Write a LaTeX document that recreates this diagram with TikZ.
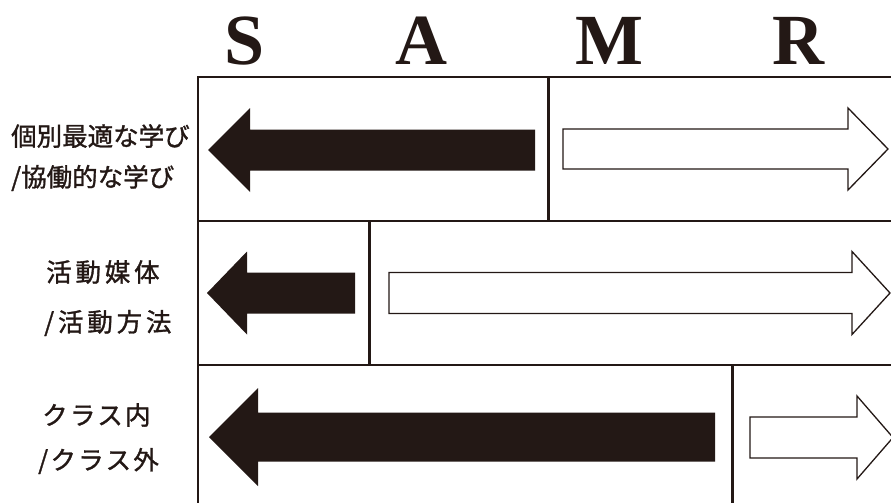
\documentclass[tikz,border=0pt]{standalone}
\usepackage{fontspec}
\setmainfont{Liberation Serif}
\newfontfamily\jpfont[FakeBold=1.2]{Noto Sans CJK JP}
\newfontfamily\jpfontA[LetterSpace=15,FakeBold=1.2]{Noto Sans CJK JP}
\newfontfamily\jpfontB[LetterSpace=9,FakeBold=1.2]{Noto Sans CJK JP}
\definecolor{ink}{RGB}{35,24,21}
\tikzset{
  frame/.style={draw=ink, line width=1.6pt},
  divider/.style={draw=ink, line width=3pt},
  blackarrow/.style={fill=ink, draw=none},
  whitearrow/.style={fill=white, draw=ink, line width=1.3pt, line join=miter},
  samr/.style={anchor=base, inner sep=0pt, text=ink, font=\fontsize{72}{72}\selectfont\bfseries},
  lbl/.style={anchor=west, inner sep=0pt, text=ink},
}
\begin{document}
\begin{tikzpicture}[x=1pt, y=-1pt]
\useasboundingbox (0,0) rectangle (891,503);
\fill[white] (0,0) rectangle (891,503);
\begin{scope}
\clip (0,0) rectangle (891,503);
% letters
\node[samr] (S) at (245,65) {S};
\node[samr] (A) at (421,65) {A};
\node[samr] (M) at (609,65) {M};
\node[samr] (R) at (798,65) {R};
% labels
\node[lbl, font=\fontsize{25.5}{25.5}\jpfont] (l1a) at (11,136) {個別最適な学び};
\node[lbl, font=\fontsize{25.5}{25.5}\jpfont] (l1b) at (11,178) {/協働的な学び};
\node[lbl, font=\fontsize{25.5}{25.5}\jpfontA] (l2a) at (46,272) {活動媒体};
\node[lbl, font=\fontsize{25.5}{25.5}\jpfontA] (l2b) at (44,323) {/活動方法};
\node[lbl, font=\fontsize{25.5}{25.5}\jpfontB] (l3a) at (42,415) {クラス内};
\node[lbl, font=\fontsize{25.5}{25.5}\jpfontB] (l3b) at (38,461) {/クラス外};
% frame
\draw[frame] (198,520) -- (198,77) -- (900,77);
\draw[frame] (198,221) -- (900,221);
\draw[frame] (198,365) -- (900,365);
% dividers
\draw[divider] (548,77) -- (548,221);
\draw[divider] (369,221) -- (369,365);
\draw[divider] (732,365) -- (732,510);
% row 1 arrows
\fill[blackarrow] (208,150) -- (250,108) -- (250,129.5) -- (535,129.5) -- (535,170.5) -- (250,170.5) -- (250,192) -- cycle;
\draw[whitearrow] (563,129) -- (848,129) -- (848,108) -- (888,149) -- (848,190) -- (848,169) -- (563,169) -- cycle;
% row 2 arrows
\fill[blackarrow] (207,293) -- (247,251.5) -- (247,272.5) -- (355,272.5) -- (355,313.5) -- (247,313.5) -- (247,334.5) -- cycle;
\draw[whitearrow] (389,272.5) -- (852,272.5) -- (852,251.5) -- (890,293) -- (852,334.5) -- (852,313.5) -- (389,313.5) -- cycle;
% row 3 arrows
\fill[blackarrow] (209,437) -- (258,388) -- (258,412.5) -- (715,412.5) -- (715,461.5) -- (258,461.5) -- (258,486) -- cycle;
\draw[whitearrow] (750,417) -- (857,417) -- (857,396) -- (893,437.5) -- (857,479) -- (857,458) -- (750,458) -- cycle;
\end{scope}
\end{tikzpicture}
\end{document}
